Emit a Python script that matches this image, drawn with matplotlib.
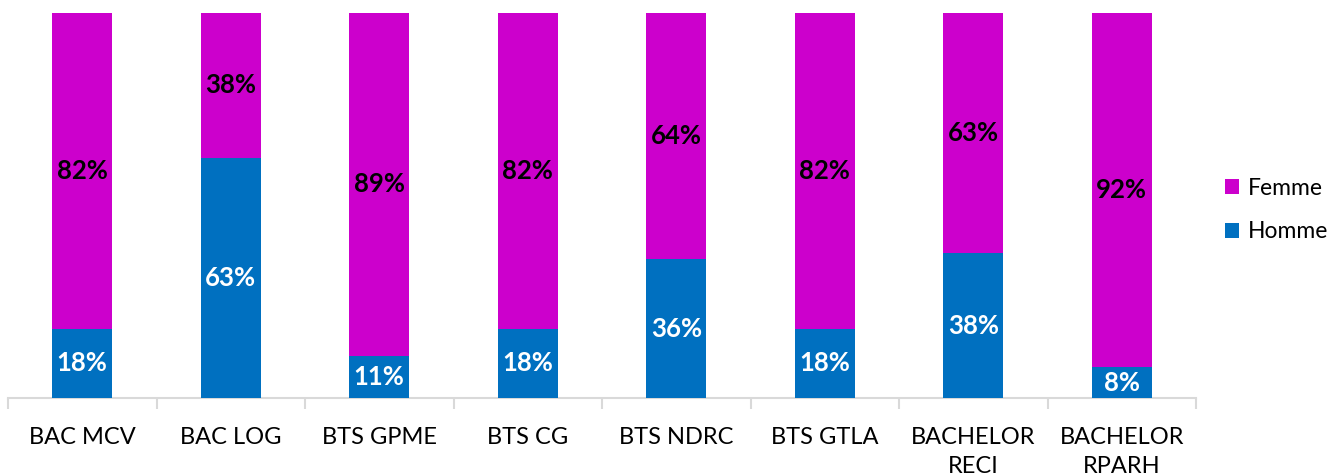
import numpy as np
import matplotlib
matplotlib.use('Agg')
import matplotlib.pyplot as plt

# ── Data ──────────────────────────────────────────────────────────────────────
categories = ["BAC MCV", "BAC LOG", "BTS GPME", "BTS CG", "BTS NDRC",
              "BTS GTLA", "BACHELOR\nRECI", "BACHELOR\nRPARH"]
homme = [18, 63, 11, 18, 36, 18, 38, 8]
femme = [82, 38, 89, 82, 64, 82, 63, 92]

C_HOMME = "#0070C0"
C_FEMME = "#CC00CC"

plt.rcParams["font.family"] = ["Lato", "DejaVu Sans"]

# 100 % stacked: normalise each column
h = np.array(homme, float)
f = np.array(femme, float)
tot = h + f
h_n = h / tot
f_n = f / tot

fig = plt.figure(figsize=(13.38, 4.75), dpi=100)
ax = fig.add_axes([8 / 1338, 77 / 475, 1188 / 1338, 385 / 475])

x = np.arange(len(categories))
BW = 0.405
ax.bar(x, h_n, width=BW, color=C_HOMME, label="Homme", zorder=3)
ax.bar(x, f_n, width=BW, bottom=h_n, color=C_FEMME, label="Femme", zorder=3)

for i in range(len(categories)):
    ax.text(x[i], h_n[i] / 2, f"{homme[i]}%", ha="center", va="center",
            fontsize=18.5, fontweight="bold", color="white", zorder=4)
    ax.text(x[i], h_n[i] + f_n[i] / 2, f"{femme[i]}%", ha="center", va="center",
            fontsize=18.5, fontweight="bold", color="black", zorder=4)

ax.set_xlim(-0.5, len(categories) - 0.5)
ax.set_ylim(0, 1)
ax.set_yticks([])
for s in ["top", "right", "left"]:
    ax.spines[s].set_visible(False)
ax.spines["bottom"].set_color("#d9d9d9")
ax.spines["bottom"].set_linewidth(1.5)

# category labels between boundary ticks
ax.set_xticks(x)
ax.set_xticklabels(categories, fontsize=17, linespacing=1.45)
ax.tick_params(axis="x", which="major", length=0, pad=21)
ax.set_xticks(np.arange(-0.5, len(categories)), minor=True)
ax.tick_params(axis="x", which="minor", length=8, width=1.5, color="#d9d9d9")

handles, labels = ax.get_legend_handles_labels()
fig.legend(handles[::-1], labels[::-1], loc="center left",
           bbox_to_anchor=(1216 / 1338, 1 - 210 / 475), frameon=False,
           fontsize=16.5, handlelength=0.6, handleheight=0.6,
           handletextpad=0.4, labelspacing=1.0, borderaxespad=0)

fig.savefig("out.png", dpi=100)
